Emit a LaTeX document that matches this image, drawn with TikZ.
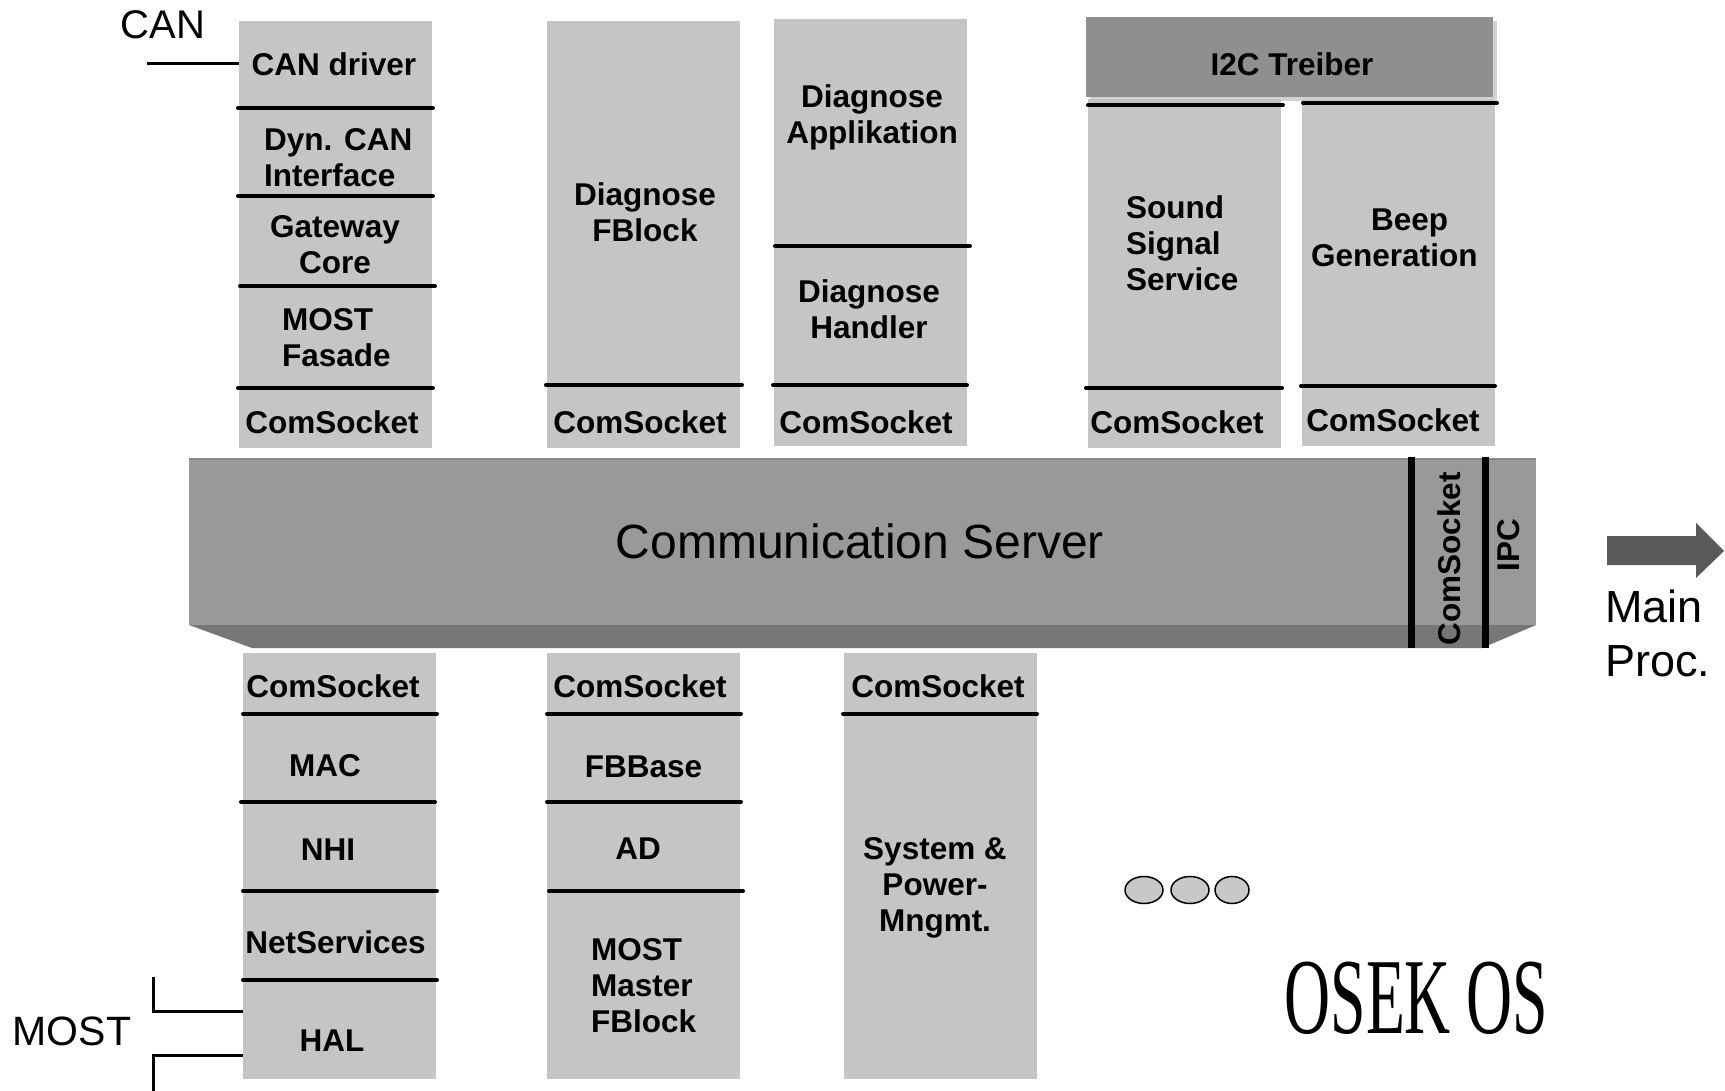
\documentclass[tikz,border=0pt]{standalone}
\usepackage{fontspec}
\setmainfont{Liberation Sans}
\newfontfamily\osekfont{Liberation Serif}
\usetikzlibrary{shapes.geometric}
\definecolor{boxgray}{RGB}{197,197,197}
\definecolor{commface}{RGB}{153,153,153}
\definecolor{commbottom}{RGB}{119,119,119}
\definecolor{commtop}{RGB}{136,136,136}
\definecolor{itwoc}{RGB}{143,143,143}
\definecolor{shadowgray}{RGB}{210,210,210}
\definecolor{arrowgray}{RGB}{89,89,89}
\definecolor{dotgray}{RGB}{200,200,200}
\tikzset{
  box/.style={fill=boxgray, draw=none, inner sep=0pt, minimum width=193pt},
  divline/.style={line width=4pt, line cap=round, black},
  lbl/.style={font=\bfseries\fontsize{31.5}{36}\selectfont, inner sep=0pt, align=center},
  lbll/.style={lbl, align=left, anchor=west},
  plain/.style={inner sep=0pt, align=left},
  conn/.style={line width=3pt, black},
  dot/.style={ellipse, draw=black, line width=1.5pt, fill=dotgray, inner sep=0pt, minimum height=27pt}
}
\begin{document}
\begin{tikzpicture}[x=1pt,y=-1pt]
\useasboundingbox[fill=white] (0,0) rectangle (1725,1091);

% ---------- top columns ----------
\node[box, minimum height=427pt] (T1) at (335.5,234.5) {};
\node[box, minimum height=427pt] (T2) at (643.5,234.5) {};
\node[box, minimum height=427pt] (T3) at (870.5,232.5) {};
\fill[shadowgray] (1090,21) rectangle (1497,101);
\node[fill=itwoc, inner sep=0pt, minimum width=407pt, minimum height=80pt] (I2C) at (1289.5,57) {};
\node[box, minimum height=349pt] (T4) at (1184.5,273.5) {};
\node[box, minimum height=347pt] (T5) at (1398.5,272.5) {};

% dividers
\draw[divline] (238,108) -- (433,108);
\draw[divline] (238,196) -- (433,196);
\draw[divline] (240,286) -- (435,286);
\draw[divline] (238,388) -- (433,388);
\draw[divline] (546,385) -- (742,385);
\draw[divline] (775,246) -- (970,246);
\draw[divline] (773,385) -- (967,385);
\draw[divline] (1088,105) -- (1283,105);
\draw[divline] (1086,388) -- (1282,388);
\draw[divline] (1303,103) -- (1497,103);
\draw[divline] (1301,386) -- (1495,386);

% texts top
\node[lbl] (candrv) at (334,64) {CAN driver};
\node[lbll] (dyncan) at (264,157.5) {Dyn. CAN\\Interface};
\node[lbl] (gwcore) at (335,245) {Gateway\\Core};
\node[lbll] (mostfas) at (282,338) {MOST\\Fasade};
\node[lbl] (cs1) at (332,422) {ComSocket};
\node[lbl] (diagfb) at (645,212) {Diagnose\\FBlock};
\node[lbl] (cs2) at (640,422) {ComSocket};
\node[lbl] (diagapp) at (872,117.5) {Diagnose\\Applikation};
\node[lbl] (diaghdl) at (869,309) {Diagnose\\Handler};
\node[lbl] (cs3) at (866,422) {ComSocket};
\node[lbl] (i2ctxt) at (1292,64) {I2C Treiber};
\node[lbll] (sound) at (1126,243.5) {Sound\\Signal\\Service};
\node[lbl] (cs4) at (1177,422) {ComSocket};
\node[lbll] (beep) at (1311,238) {\hspace*{60pt}Beep\\Generation};
\node[lbl] (cs5) at (1393,420) {ComSocket};

% ---------- communication server ----------
\fill[commbottom] (189,625) -- (1536,625) -- (1482,648) -- (252,648) -- cycle;
\node[fill=commface, inner sep=0pt, minimum width=1347pt, minimum height=166pt] (comm) at (862.5,542) {};
\draw[commtop, line width=1.5pt] (comm.north west) -- (comm.north east);
\node[inner sep=0pt, font=\fontsize{48}{56}\selectfont] (commtxt) at (860,541) {Communication Server};
\draw[line width=7pt] (1411,457) -- (1411,648);
\draw[line width=7pt] (1485,457) -- (1485,648);
\node[lbl, rotate=90] (csv) at (1449,559) {ComSocket};
\node[lbl, rotate=90] (ipc) at (1509,545) {IPC};

% arrow to main processor
\fill[arrowgray] (1607,536) -- (1696,536) -- (1696,523) -- (1724,551) -- (1696,578) -- (1696,565) -- (1607,565) -- cycle;
\node[plain, anchor=west, font=\fontsize{45}{54}\selectfont] (mainproc) at (1605,633) {Main\\Proc.};

% ---------- bottom columns ----------
\node[box, minimum height=426pt] (B1) at (339.5,866) {};
\node[box, minimum height=426pt] (B2) at (643.5,866) {};
\node[box, minimum height=426pt] (B3) at (940.5,866) {};

\draw[divline] (243,714) -- (437,714);
\draw[divline] (241,802) -- (435,802);
\draw[divline] (243,891) -- (437,891);
\draw[divline] (243,980) -- (437,980);
\draw[divline] (547,714) -- (741,714);
\draw[divline] (547,802) -- (741,802);
\draw[divline] (549,891) -- (743,891);
\draw[divline] (843,714) -- (1037,714);

\node[lbl] (cs6) at (333,686) {ComSocket};
\node[lbl] (mac) at (325,766) {MAC};
\node[lbl] (nhi) at (328,850) {NHI};
\node[lbl] (netsv) at (335.5,942) {NetServices};
\node[lbl] (hal) at (332,1041) {HAL};
\node[lbl] (cs7) at (640,686) {ComSocket};
\node[lbl] (fbbase) at (643.5,767) {FBBase};
\node[lbl] (ad) at (638,849) {AD};
\node[lbll] (mmfb) at (591,986) {MOST\\Master\\FBlock};
\node[lbl] (cs8) at (938,686) {ComSocket};
\node[lbl] (syspow) at (935,888) {System \&\\Power-\\Mngmt.};

% ---------- external labels and connectors ----------
\node[inner sep=0pt, font=\fontsize{40}{48}\selectfont] (canlbl) at (163,25) {CAN};
\coordinate (canend) at (147,64);
\draw[conn] (canend) -- (T1.west |- canend);

\node[inner sep=0pt, font=\fontsize{41}{48}\selectfont] (mostlbl) at (72,1031.5) {MOST};
\coordinate (mostA) at (153,977);
\coordinate (mostAk) at (153,1011);
\draw[conn] (mostA) -- (mostAk) -- (B1.west |- mostAk);
\coordinate (mostB) at (153,1091);
\coordinate (mostBk) at (153,1055);
\draw[conn] (mostB) -- (mostBk) -- (B1.west |- mostBk);

% dots
\node[dot, minimum width=38pt] (d1) at (1144,890) {};
\node[dot, minimum width=38pt] (d2) at (1190,890) {};
\node[dot, minimum width=34pt] (d3) at (1232,890) {};

% OSEK OS
\node[inner sep=0pt, font=\osekfont\fontsize{108}{120}\selectfont] (osek) at (1416.5,998.5) {\scalebox{0.59}[1]{OSEK OS}};
\end{tikzpicture}
\end{document}
